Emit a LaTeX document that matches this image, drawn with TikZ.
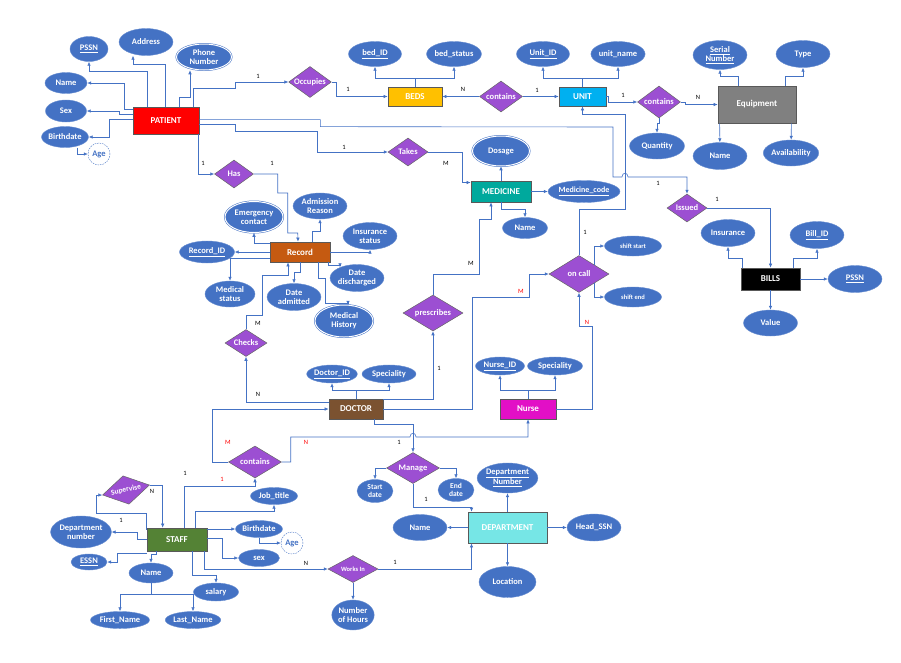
\documentclass[tikz,border=0pt]{standalone}
\usepackage{fontspec}
\setmainfont{Carlito}
\usetikzlibrary{arrows.meta,shapes.geometric}

\definecolor{attrblue}{HTML}{4472C4}
\definecolor{relpurple}{HTML}{9C4FD2}
\definecolor{patred}{HTML}{FF0000}
\definecolor{bedyellow}{HTML}{FFC000}
\definecolor{unitcyan}{HTML}{00B0F0}
\definecolor{equipgray}{HTML}{808080}
\definecolor{medteal}{HTML}{00A99D}
\definecolor{recorange}{HTML}{C55A11}
\definecolor{docbrown}{HTML}{7B5230}
\definecolor{nursepink}{HTML}{E20FC6}
\definecolor{deptcyan}{HTML}{76E6E6}
\definecolor{staffgreen}{HTML}{548235}

\begin{document}
\begin{tikzpicture}[x=1pt, y=-1pt,
    attr/.style={ellipse, fill=attrblue, draw=attrblue!80!white, line width=0.4pt, text=white,
        font=\fontsize{8.5}{9}\selectfont\bfseries, align=center, inner sep=0pt},
    mattr/.style={attr, draw=attrblue, double=white, double distance=1pt, line width=0.5pt},
    dattr/.style={circle, draw=attrblue, dash pattern=on 1.5pt off 1pt, fill=white, text=attrblue,
        font=\fontsize{8.5}{9}\selectfont\bfseries, minimum size=22pt, inner sep=0pt},
    ent/.style={rectangle, draw=black!65, line width=0.7pt, text=white,
        font=\fontsize{9}{9.5}\selectfont\bfseries, inner sep=0pt},
    rel/.style={diamond, aspect=1.5, fill=relpurple, draw=black!60, line width=0.5pt, text=white,
        font=\fontsize{8.5}{9}\selectfont\bfseries, inner sep=0pt},
    card/.style={font=\fontsize{6.5}{7}\selectfont, inner sep=0pt},
    redcard/.style={card, text=patred}
]
\useasboundingbox (0,0) rectangle (901,662);

\begin{scope}[]
    \node[ent, fill=patred, minimum width=66pt, minimum height=27pt] (pat) at (166,120.5) {PATIENT};
    \node[attr, minimum width=38pt, minimum height=25pt] (ppssn) at (89,49) {\underline{PSSN}};
    \node[attr, minimum width=54pt, minimum height=27pt] (paddr) at (146,42) {Address};
    \node[mattr, minimum width=55pt, minimum height=26pt] (pphone) at (204,57) {Phone\\Number};
    \node[attr, minimum width=42pt, minimum height=21pt] (pname) at (66,83) {Name};
    \node[attr, minimum width=41pt, minimum height=22pt] (psex) at (66,111) {Sex};
    \node[attr, minimum width=44pt, minimum height=21pt] (pbirth) at (65,137) {Birthdate};
    \node[dattr] (page) at (99,154) {Age};

    \node[rel, minimum width=42pt, minimum height=31pt] (occ) at (310,82) {Occupies};
    \node[ent, fill=bedyellow, minimum width=54pt, minimum height=19pt] (beds) at (415,96.5) {BEDS};
    \node[attr, minimum width=53pt, minimum height=25pt] (bedid) at (375,54) {\underline{bed\_ID}};
    \node[attr, minimum width=54pt, minimum height=25pt] (bedst) at (454,54) {bed\_status};
    \node[rel, minimum width=43pt, minimum height=31pt] (cont1) at (501,96.5) {contains};
    \node[ent, fill=unitcyan, minimum width=47pt, minimum height=19pt] (unit) at (582.5,96.5) {UNIT};
    \node[attr, minimum width=53pt, minimum height=25pt] (unitid) at (543,54) {\underline{Unit\_ID}};
    \node[attr, minimum width=54pt, minimum height=25pt] (unitnm) at (618,54) {unit\_name};
    \node[rel, minimum width=43pt, minimum height=32pt] (cont2) at (659,102) {contains};
    \node[ent, fill=equipgray, minimum width=78pt, minimum height=37pt] (equip) at (757,104.5) {Equipment};
    \node[attr, minimum width=54pt, minimum height=29pt] (serno) at (720,55) {\underline{Serial}\\\underline{Number}};
    \node[attr, minimum width=54pt, minimum height=27pt] (etype) at (803,54) {Type};
    \node[attr, minimum width=55pt, minimum height=26pt] (qty) at (657,146) {Quantity};
    \node[attr, minimum width=54pt, minimum height=27pt] (ename) at (720,156) {Name};
    \node[attr, minimum width=54pt, minimum height=26pt] (avail) at (791,153) {Availability};

    \node[rel, minimum width=39pt, minimum height=28pt] (has) at (234,174) {Has};
    \node[rel, minimum width=40pt, minimum height=28pt] (takes) at (408,152) {Takes};
    \node[ent, fill=medteal, minimum width=60pt, minimum height=21pt] (med) at (501,191.5) {MEDICINE};
    \node[mattr, minimum width=57pt, minimum height=30pt] (dos) at (501,151) {Dosage};
    \node[attr, font=\fontsize{8}{8.5}\selectfont\bfseries, minimum width=72pt, minimum height=22pt] (medc) at (584,191.5) {\underline{Medicine\_code}};
    \node[attr, minimum width=45pt, minimum height=21pt] (mname) at (525,228) {Name};

    \node[ent, fill=recorange, minimum width=60pt, minimum height=20pt] (rec) at (300,252) {Record};
    \node[mattr, minimum width=58pt, minimum height=31pt] (emc) at (254,217) {Emergency\\contact};
    \node[attr, minimum width=54pt, minimum height=26pt] (admr) at (320,206) {Admission\\Reason};
    \node[attr, minimum width=54pt, minimum height=27pt] (inss) at (370,236) {Insurance\\status};
    \node[attr, minimum width=55pt, minimum height=22pt] (recid) at (207,252) {\underline{Record\_ID}};
    \node[attr, minimum width=50pt, minimum height=26pt] (meds) at (230,294) {Medical\\status};
    \node[attr, minimum width=54pt, minimum height=27pt] (datea) at (294,297) {Date\\admitted};
    \node[attr, minimum width=54pt, minimum height=27pt] (dated) at (357,278) {Date\\discharged};
    \node[mattr, minimum width=58pt, minimum height=32pt] (medh) at (344,321) {Medical\\History};

    \node[rel, minimum width=42pt, minimum height=27pt] (chk) at (246,343) {Checks};
    \node[rel, minimum width=60pt, minimum height=36pt] (presc) at (433,313) {prescribes};
    \node[rel, minimum width=60pt, minimum height=37pt] (onc) at (579,274) {on call};
    \node[attr, font=\fontsize{6.5}{7}\selectfont\bfseries, minimum width=57pt, minimum height=20pt] (shs) at (633,246) {shift start};
    \node[attr, font=\fontsize{6.5}{7}\selectfont\bfseries, minimum width=57pt, minimum height=20pt] (she) at (633,297) {shift end};
    \node[rel, minimum width=40pt, minimum height=28pt] (iss) at (687,208) {Issued};
    \node[ent, fill=black, minimum width=59pt, minimum height=22pt] (bill) at (770.5,279) {BILLS};
    \node[attr, minimum width=54pt, minimum height=27pt] (bins) at (728,233) {Insurance};
    \node[attr, minimum width=54pt, minimum height=27pt] (bid) at (817,235) {\underline{Bill\_ID}};
    \node[attr, minimum width=54pt, minimum height=27pt] (bpssn) at (855,279) {\underline{PSSN}};
    \node[attr, minimum width=54pt, minimum height=26pt] (bval) at (770.5,323) {Value};

    \node[ent, fill=docbrown, minimum width=54pt, minimum height=20pt] (doc) at (356,409) {DOCTOR};
    \node[attr, minimum width=49pt, minimum height=18pt] (docid) at (332,374) {\underline{Doctor\_ID}};
    \node[attr, minimum width=54pt, minimum height=18pt] (docsp) at (389,374) {Speciality};
    \node[ent, fill=nursepink, minimum width=56pt, minimum height=20pt] (nur) at (528,409) {Nurse};
    \node[attr, minimum width=49pt, minimum height=18pt] (nurid) at (500,366) {\underline{Nurse\_ID}};
    \node[attr, minimum width=55pt, minimum height=18pt] (nursp) at (555,366) {Speciality};

    \node[rel, minimum width=53pt, minimum height=32pt] (cont3) at (255,462) {contains};
    \node[rel, minimum width=53pt, minimum height=31pt] (mng) at (413,468) {Manage};
    \node[attr, font=\fontsize{7.5}{8}\selectfont\bfseries, minimum width=36pt, minimum height=23pt] (std) at (375,491) {Start\\date};
    \node[attr, font=\fontsize{7.5}{8}\selectfont\bfseries, minimum width=36pt, minimum height=23pt] (endd) at (456,490) {End\\date};
    \node[ent, fill=deptcyan, minimum width=79pt, minimum height=31pt] (dept) at (507.5,527.5) {DEPARTMENT};
    \node[attr, minimum width=60pt, minimum height=30pt] (deptno) at (507.5,478) {\underline{Department}\\\underline{Number}};
    \node[attr, minimum width=54pt, minimum height=26pt] (dname) at (420,527.5) {Name};
    \node[attr, minimum width=54pt, minimum height=27pt] (hssn) at (594,527.5) {Head\_SSN};
    \node[attr, minimum width=57pt, minimum height=31pt] (loc) at (507.5,582) {Location};
    \node[rel, font=\fontsize{6.5}{7}\selectfont\bfseries, minimum width=50pt, minimum height=27pt] (wrk) at (353,569) {Works In};
    \node[attr, minimum width=41pt, minimum height=30pt] (hrs) at (353,615) {Number\\of Hours};

    \node[ent, fill=staffgreen, minimum width=60pt, minimum height=23pt] (stf) at (177,539.5) {STAFF};
    \node[rel, rotate=12, font=\fontsize{7.5}{8}\selectfont\bfseries, minimum width=48pt, minimum height=29pt] (sup) at (126,490) {Supervise};
    \node[attr, minimum width=59pt, minimum height=32pt] (sdept) at (81,532) {Department\\number};
    \node[attr, minimum width=36pt, minimum height=16pt] (essn) at (89,562) {\underline{ESSN}};
    \node[attr, minimum width=44pt, minimum height=20pt] (sname) at (151,573) {Name};
    \node[attr, minimum width=59pt, minimum height=17pt] (first) at (120,620) {First\_Name};
    \node[attr, minimum width=53pt, minimum height=17pt] (last) at (193,620) {Last\_Name};
    \node[attr, minimum width=45pt, minimum height=18pt] (sal) at (216,592) {salary};
    \node[attr, minimum width=47pt, minimum height=17pt] (jobt) at (274,496) {Job\_title};
    \node[attr, minimum width=45pt, minimum height=17pt] (sbirth) at (259,529) {Birthdate};
    \node[dattr] (sage) at (292,543) {Age};
    \node[attr, minimum width=41pt, minimum height=17pt] (ssex) at (259,558) {sex};
\end{scope}

\begin{scope}[-{Latex[length=4pt, width=3.5pt]}, draw=attrblue, line width=0.6pt]
    \draw ([xshift=15pt]pat.north west) -- ++(0,-35) -| (ppssn);
    \draw ([xshift=33pt]pat.north west) -- ++(0,-42) -| ([xshift=-13pt]paddr.south);
    \draw ([xshift=47pt]pat.north west) -- ++(0,-9) -| ([xshift=-14pt]pphone.south);
    \draw ([yshift=-3pt]pat.north west) -- ++(-8,0) |- (pname);
    \draw ([yshift=-8pt]pat.north west) -- ++(-13,0) |- (psex);
    \draw ([yshift=-13pt]pat.north west) -- ++(-23,0) |- (pbirth);
    \draw ([xshift=12pt]pbirth.south) |- (page);
    \draw ([xshift=-6pt]pat.north east) -- ++(0,-18) -- ++(42,0) |- (occ);
    \draw ([xshift=-1pt]pat.south east) |- (has);
    \draw ([yshift=-18pt]pat.north east) -- ++(36,0) -- ++(0,7) -- ++(82,0) |- (takes);
    \draw ([yshift=-13pt]pat.north east) -- ++(121,0) -- ++(0,7) -- (613,127) -- (613,177) -- (622,177)
        .. controls (622,172) and (628,172) .. (628,177) -| (iss);

    \draw (occ.east) -- ++(5,0) |- (beds);
    \draw (beds.north) -- ++(0,-8) -| (bedid);
    \draw (beds.north) -- ++(0,-8) -| (bedst);
    \draw (cont1) -- (beds);
    \draw (cont1) -- (unit);
    \draw (unit.north) -- ++(0,-8) -| (unitid);
    \draw (unit.north) -- ++(0,-8) -| (unitnm);
    \draw (unit.east) -- ++(2,0) |- (cont2);
    \draw (cont2.east) -- ++(5,0) |- (equip);
    \draw (cont2.south) -- ++(0,5) -| (qty);
    \draw ([xshift=21pt]equip.north west) -- ++(0,-9) -| (serno);
    \draw ([xshift=-11pt]equip.north east) -- ++(0,-9) -| (etype);
    \draw ([xshift=2pt]equip.south west) -- (ename);
    \draw ([xshift=-5pt]equip.south east) -- (avail);

    \draw (has.east) -- ++(24,0) -- ++(0,19) -- ++(10,0) -- ++(0,40) -- ++(10,0) -- ([xshift=-2pt]rec.north);
    \draw (takes.east) -- ++(34,0) |- ([yshift=9pt]med.west);
    \draw (med.north) -- (dos);
    \draw (med.east) -- (medc);
    \draw (med.south) -- ++(0,7) -| (mname);

    \draw ([yshift=-2pt]rec.north west) -| (emc);
    \draw ([xshift=12pt]rec.north) -- ++(0,-10) -| (admr);
    \draw (rec.east) -| (inss);
    \draw (rec.west) -- (recid);
    \draw ([yshift=-6pt]rec.west) -| (meds);
    \draw (rec.south) -- ++(0,10) -| (datea);
    \draw ([xshift=-2pt]rec.south east) -- ++(0,3) -| ([xshift=-17pt,yshift=-3pt]dated.north);
    \draw ([xshift=-12pt]rec.south east) -- ++(0,16) -- ++(7,0) -- ++(0,25) -| ([xshift=4pt]medh.north);
    \draw (chk.north) -- ++(0,-14) -- ++(16,0) -- ++(0,-40) -- ++(26,0) -- ([xshift=-12pt]rec.south);

    \draw ([yshift=-4pt]doc.north west) -| (chk);
    \draw (doc.north) -- ++(0,-8) -| (docid);
    \draw (doc.north) -- ++(0,-8) -| (docsp);
    \draw ([yshift=-1pt]doc.north east) -| (presc);
    \draw (presc.north) -- ++(0,-20) -- ++(46,0) -- ++(0,-55) -- ++(12,0) -- ([xshift=-10pt]med.south);
    \draw (doc.east) -- ++(89,0) -- ++(0,-112) -- ++(57,0) |- (onc);
    \draw (nur.east) -- ++(36,0) -- ++(0,-83) -| (onc);
    \draw (onc.north) -- ++(0,-46) -- ++(46,0) -- ++(0,-95) -| (unit);
    \draw (onc.north east) |- (shs);
    \draw (onc.south east) |- (she);
    \draw (nur.north) -- ++(0,-8) -| (nurid);
    \draw (nur.north) -- ++(0,-8) -| (nursp);

    \draw (iss.east) -| (bill);
    \draw ([xshift=2pt]bill.north west) -- ++(0,-9) -| (bins);
    \draw ([xshift=-7pt]bill.north east) -- ++(0,-9) -| (bid);
    \draw (bill.east) -- (bpssn);
    \draw (bill.south) -- (bval);

    \draw (cont3.west) -- ++(-16,0) |- (doc);
    \draw (cont3.east) -- ++(9,0) -- ++(0,-25) -- (410,437)
        .. controls (410,432) and (416,432) .. (416,437) -| (nur);
    \draw ([xshift=38pt]stf.north west) -- ++(0,-41) -| (cont3);
    \draw ([xshift=-9pt]doc.south east) -- ++(0,5) -| (mng);
    \draw (mng.west) -| (std);
    \draw (mng.east) -| (endd);
    \draw (mng.south) -- ++(0,24) -| ([xshift=-36pt]dept.north);
    \draw (dept.north) -- (deptno);
    \draw (dept.west) -- (dname);
    \draw (dept.east) -- (hssn);
    \draw (dept.south) -- (loc);
    \draw (wrk.east) -| ([xshift=-36pt]dept.south);
    \draw ([xshift=-3pt]stf.south east) |- (wrk);
    \draw (wrk.south) -- (hrs);

    \draw (sup.east) -| ([xshift=16pt]stf.north west);
    \draw ([yshift=-2pt]stf.north west) -- ++(0,-16) -- ++(-50,0) |- (sup.west);
    \draw ([yshift=-12pt]stf.north west) -- ++(-9,0) |- (sdept);
    \draw ([yshift=-2pt]stf.south west) -- ++(-29,0) |- (essn);
    \draw ([xshift=10pt]stf.south west) -- ++(0,3) -| (sname);
    \draw (sname.south) -- ++(0,11) -| (first);
    \draw (sname.south) -- ++(0,11) -| (last);
    \draw ([xshift=46pt]stf.south west) -- ++(0,24) -| (sal);
    \draw ([xshift=49pt]stf.north west) -- ++(0,-16) -| (jobt);
    \draw ([yshift=-2pt]stf.north east) -- ++(8,0) |- (sbirth);
    \draw (sbirth.south) |- (sage);
    \draw ([yshift=-11pt]stf.north east) -- ++(15,0) |- (ssex);
\end{scope}

\node[card] (c1) at (258,76) {1};
\node[card] (c2) at (348,89) {1};
\node[card] (c3) at (463,89) {N};
\node[card] (c4) at (537,90) {1};
\node[card] (c5) at (623,95) {1};
\node[card] (c6) at (698,97) {N};
\node[card] (c7) at (203,163) {1};
\node[card] (c8) at (272,163) {1};
\node[card] (c9) at (344,147) {1};
\node[card] (c10) at (446,163) {M};
\node[card] (c11) at (658,183) {1};
\node[card] (c12) at (717,199) {1};
\node[card] (c13) at (585,232) {1};
\node[card] (c14) at (471,263) {M};
\node[card] (c15) at (439,368) {1};
\node[redcard] (c16) at (521,291) {M};
\node[redcard] (c17) at (587,322) {N};
\node[card] (c18) at (258,323) {M};
\node[card] (c19) at (258,394) {N};
\node[redcard] (c20) at (228,442) {M};
\node[redcard] (c21) at (306,442) {N};
\node[redcard] (c22) at (222,479) {1};
\node[card] (c23) at (185,473) {1};
\node[card] (c24) at (399,442) {1};
\node[card] (c25) at (426,499) {1};
\node[card] (c26) at (306,563) {N};
\node[card] (c27) at (395,562) {1};
\node[card] (c28) at (152,491) {N};
\node[card] (c29) at (121,520) {1};

\end{tikzpicture}
\end{document}
